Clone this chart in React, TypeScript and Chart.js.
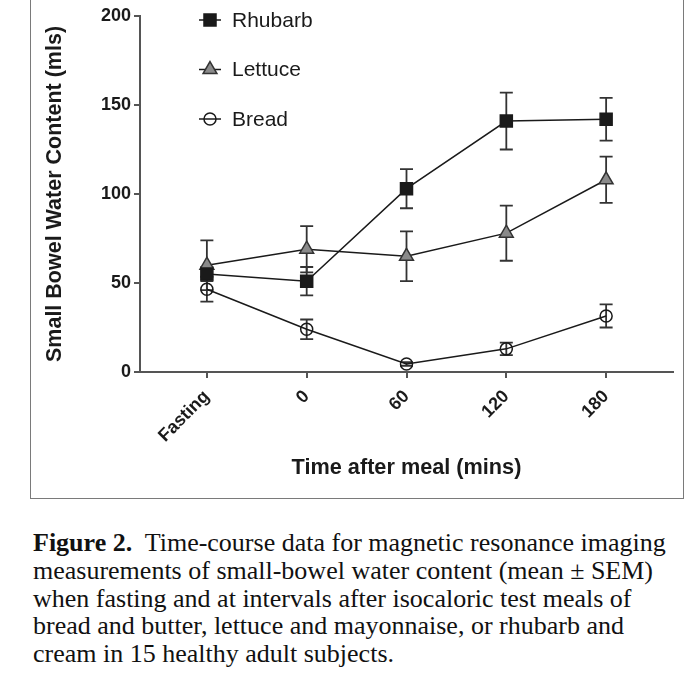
import React, { useEffect, useRef } from 'react';
import { Chart, registerables } from 'chart.js';

Chart.register(...registerables);

// ---- Data ----
const categories = ['Fasting', '0', '60', '120', '180'];
const seriesNames = ['Rhubarb', 'Lettuce', 'Bread'];
const rhubarbMean = [55, 51, 103, 141, 142];
const rhubarbSem = [4, 8, 11, 16, 12];
const lettuceMean = [60, 69, 65, 78, 108];
const lettuceSem = [14, 13, 14, 15.5, 13];
const breadMean = [46.5, 24, 4.5, 13, 31.5];
const breadSem = [7, 5.5, 1, 3.5, 6.5];
const yTicks = [0, 50, 100, 150, 200];
const yTitle = 'Small Bowel Water Content (mls)';
const xTitle = 'Time after meal (mins)';
const captionBold = 'Figure 2.';
const captionLines = [
  '\u00a0 Time-course data for magnetic resonance imaging',
  'measurements of small-bowel water content (mean \u00b1 SEM)',
  'when fasting and at intervals after isocaloric test meals of',
  'bread and butter, lettuce and mayonnaise, or rhubarb and',
  'cream in 15 healthy adult subjects.',
];

const SANS = "'Liberation Sans', Arial, Helvetica, sans-serif";
const SERIF = "'Liberation Serif', 'Times New Roman', serif";
const INK = '#1a1a1a';
const AXIS = '#555';

const semBySeries = [rhubarbSem, lettuceSem, breadSem];

function drawMarker(
  ctx: CanvasRenderingContext2D,
  style: string,
  x: number,
  y: number,
  r: number,
  fill: string,
  stroke: string,
  lw: number
) {
  ctx.save();
  ctx.beginPath();
  if (style === 'rect') {
    const s = r * Math.SQRT1_2;
    ctx.rect(x - s, y - s, 2 * s, 2 * s);
  } else if (style === 'triangle') {
    let a = 0;
    ctx.moveTo(x + Math.sin(a) * r, y - Math.cos(a) * r);
    a += (2 * Math.PI) / 3;
    ctx.lineTo(x + Math.sin(a) * r, y - Math.cos(a) * r);
    a += (2 * Math.PI) / 3;
    ctx.lineTo(x + Math.sin(a) * r, y - Math.cos(a) * r);
    ctx.closePath();
  } else {
    ctx.arc(x, y, r, 0, Math.PI * 2);
  }
  ctx.fillStyle = fill;
  ctx.fill();
  ctx.lineWidth = lw;
  ctx.strokeStyle = stroke;
  ctx.stroke();
  ctx.restore();
}

const errorBarPlugin = {
  id: 'errorBars',
  beforeDatasetsDraw(chart: any) {
    const ctx = chart.ctx as CanvasRenderingContext2D;
    const yScale = chart.scales.y;
    chart.data.datasets.forEach((ds: any, di: number) => {
      const meta = chart.getDatasetMeta(di);
      const sem = semBySeries[di];
      ds.data.forEach((pt: any, j: number) => {
        const el = meta.data[j];
        if (!el) return;
        const x = el.x;
        const yTop = yScale.getPixelForValue(pt.y + sem[j]);
        const yBot = yScale.getPixelForValue(pt.y - sem[j]);
        ctx.save();
        ctx.strokeStyle = '#333';
        ctx.lineWidth = 1.8;
        ctx.beginPath();
        ctx.moveTo(x, yTop);
        ctx.lineTo(x, yBot);
        ctx.moveTo(x - 6.5, yTop);
        ctx.lineTo(x + 6.5, yTop);
        ctx.moveTo(x - 6.5, yBot);
        ctx.lineTo(x + 6.5, yBot);
        ctx.stroke();
        ctx.restore();
      });
    });
  },
};

const legendPlugin = {
  id: 'insideLegend',
  afterDraw(chart: any) {
    const ctx = chart.ctx as CanvasRenderingContext2D;
    const area = chart.chartArea;
    const mx = area.left + 70;
    chart.data.datasets.forEach((ds: any, i: number) => {
      const y = area.top + 4 + i * 49.5;
      ctx.save();
      ctx.strokeStyle = INK;
      ctx.lineWidth = 1.5;
      ctx.beginPath();
      ctx.moveTo(mx - 11, y);
      ctx.lineTo(mx + 11, y);
      ctx.stroke();
      ctx.restore();
      drawMarker(
        ctx,
        ds.pointStyle,
        mx,
        y,
        ds.pointRadius,
        ds.pointBackgroundColor,
        ds.pointBorderColor,
        ds.pointBorderWidth
      );
      ctx.save();
      ctx.fillStyle = INK;
      ctx.font = `21px ${SANS}`;
      ctx.textAlign = 'left';
      ctx.textBaseline = 'middle';
      ctx.fillText(ds.label, mx + 22, y + 1);
      ctx.restore();
    });
  },
};

export default function App() {
  const canvasRef = useRef<HTMLCanvasElement | null>(null);

  useEffect(() => {
    if (!canvasRef.current) return;
    const toPts = (arr: number[]) => arr.map((y, i) => ({ x: i, y }));
    const chart = new Chart(canvasRef.current, {
      type: 'line',
      data: {
        datasets: [
          {
            label: seriesNames[0],
            data: toPts(rhubarbMean),
            borderColor: INK,
            borderWidth: 1.5,
            pointStyle: 'rect',
            pointRadius: 8.5,
            pointBackgroundColor: '#1a1a1a',
            pointBorderColor: '#1a1a1a',
            pointBorderWidth: 1.5,
          },
          {
            label: seriesNames[1],
            data: toPts(lettuceMean),
            borderColor: INK,
            borderWidth: 1.5,
            pointStyle: 'triangle',
            pointRadius: 8,
            pointBackgroundColor: '#8a8a8a',
            pointBorderColor: '#333',
            pointBorderWidth: 1.5,
          },
          {
            label: seriesNames[2],
            data: toPts(breadMean),
            borderColor: INK,
            borderWidth: 1.5,
            pointStyle: 'circle',
            pointRadius: 6,
            pointBackgroundColor: 'rgba(0,0,0,0)',
            pointBorderColor: INK,
            pointBorderWidth: 1.5,
          },
        ] as any,
      },
      options: {
        animation: false,
        responsive: true,
        maintainAspectRatio: false,
        layout: { padding: { left: 30, right: 27, top: 16, bottom: 0 } },
        plugins: {
          legend: { display: false },
          tooltip: { enabled: false },
        },
        scales: {
          x: {
            type: 'linear',
            min: -0.67,
            max: 4.67,
            afterBuildTicks: (s: any) => {
              s.ticks = categories.map((_, i) => ({ value: i }));
            },
            afterFit: (s: any) => {
              s.height = 128;
            },
            ticks: {
              autoSkip: false,
              maxRotation: 45,
              minRotation: 45,
              padding: 8,
              color: INK,
              font: { family: SANS, size: 18, weight: 'bold' },
              callback: (v: any) => categories[Math.round(Number(v))],
            },
            grid: {
              display: true,
              drawOnChartArea: false,
              drawTicks: true,
              tickLength: 6,
              color: AXIS,
              lineWidth: 2,
            },
            border: { display: true, color: AXIS, width: 2 },
            title: {
              display: true,
              text: xTitle,
              color: INK,
              font: { family: SANS, size: 21.7, weight: 'bold' },
              padding: { top: 0, bottom: 19 },
            },
          },
          y: {
            type: 'linear',
            min: 0,
            max: 200,
            afterBuildTicks: (s: any) => {
              s.ticks = yTicks.map((v) => ({ value: v }));
            },
            afterFit: (s: any) => {
              s.width = 110;
            },
            ticks: {
              padding: 3,
              color: INK,
              font: { family: SANS, size: 18, weight: 'bold' },
            },
            grid: {
              display: true,
              drawOnChartArea: false,
              drawTicks: true,
              tickLength: 6,
              color: AXIS,
              lineWidth: 2,
            },
            border: { display: true, color: AXIS, width: 2 },
            title: {
              display: true,
              text: yTitle,
              color: INK,
              font: { family: SANS, size: 21.5, weight: 'bold' },
              padding: { top: 12, bottom: 0 },
            },
          },
        },
      } as any,
      plugins: [errorBarPlugin, legendPlugin],
    });
    return () => chart.destroy();
  }, []);

  return (
    <div
      style={{
        position: 'fixed',
        left: 0,
        top: 0,
        width: 700,
        height: 675,
        background: '#fff',
        overflow: 'hidden',
      }}
    >
      <div style={{ position: 'absolute', left: 0, top: 0, width: 700, height: 500 }}>
        <canvas ref={canvasRef} />
      </div>
      <div
        style={{
          position: 'absolute',
          left: 30,
          top: -10,
          width: 654,
          height: 509,
          border: '1.5px solid #7a7a7a',
          boxSizing: 'border-box',
          pointerEvents: 'none',
        }}
      />
      <div
        style={{
          position: 'absolute',
          left: 33,
          top: 529,
          width: 667,
          fontFamily: SERIF,
          fontSize: 26,
          lineHeight: '27.8px',
          color: '#111',
          whiteSpace: 'nowrap',
        }}
      >
        {captionLines.map((line, i) => (
          <div key={i}>
            {i === 0 ? <b>{captionBold}</b> : null}
            {line}
          </div>
        ))}
      </div>
    </div>
  );
}
